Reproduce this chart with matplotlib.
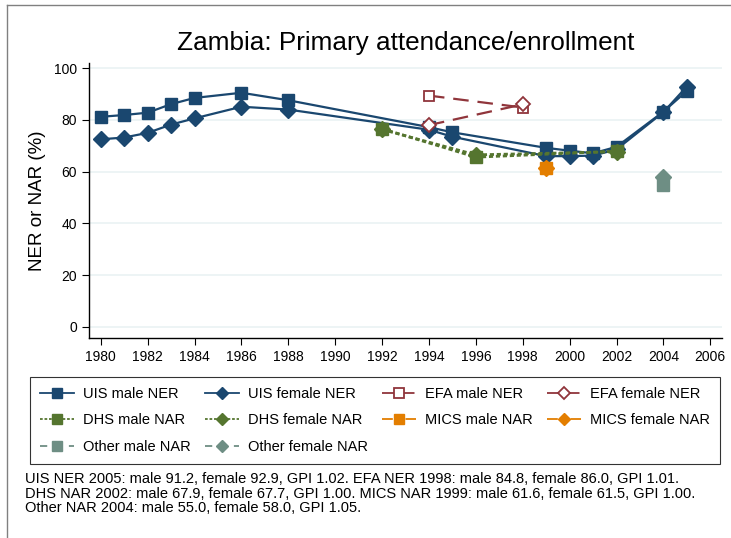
import matplotlib
matplotlib.use('Agg')
import matplotlib.pyplot as plt
from matplotlib.lines import Line2D

plt.rcParams['font.family'] = ['Liberation Sans', 'DejaVu Sans']

# data
uis_years = [1980, 1981, 1982, 1983, 1984, 1986, 1988, 1994, 1995, 1999, 2000, 2001, 2002, 2004, 2005]
uis_male = [81.2, 81.9, 82.8, 86.1, 88.5, 90.5, 87.6, 77.2, 75.2, 69.2, 68.1, 67.1, 69.6, 83.2, 91.2]
uis_female = [72.5, 73.2, 75.0, 78.2, 80.6, 85.1, 84.0, 76.2, 73.5, 66.0, 66.0, 66.2, 68.6, 83.0, 92.9]

efa_years = [1994, 1998]
efa_male = [89.4, 84.8]
efa_female = [78.0, 86.0]

dhs_years = [1992, 1996, 2002]
dhs_male = [76.6, 65.6, 67.9]
dhs_female = [76.3, 66.5, 67.7]

mics_years = [1999]
mics_male = [61.6]
mics_female = [61.5]

other_years = [2004]
other_male = [55.0]
other_female = [58.0]

xticks = list(range(1980, 2007, 2))
yticks = [0, 20, 40, 60, 80, 100]

navy = '#1a476f'
maroon = '#90353b'
green = '#55752f'
orange = '#e37e00'
teal = '#6e8e84'

fig = plt.figure(figsize=(7.31, 5.38), dpi=100)
ax = fig.add_axes([0.1218, 0.3717, 0.8659, 0.5112])

lw = 1.6
ms = 8.5
ax.plot(uis_years, uis_male, '-', color=navy, lw=lw, marker='s', ms=ms, label='UIS male NER')
ax.plot(uis_years, uis_female, '-', color=navy, lw=lw, marker='D', ms=ms - 0.5, label='UIS female NER')
ax.plot(efa_years, efa_male, color=maroon, lw=lw, dashes=(7, 4), marker='s', ms=ms - 1,
        mfc='white', mec=maroon, mew=1.3, label='EFA male NER')
ax.plot(efa_years, efa_female, color=maroon, lw=lw, dashes=(7, 4), marker='D', ms=ms - 1.5,
        mfc='white', mec=maroon, mew=1.3, label='EFA female NER')
ax.plot(dhs_years, dhs_male, color=green, lw=lw + 0.4, dashes=(1.5, 1), marker='s', ms=ms,
        label='DHS male NAR')
ax.plot(dhs_years, dhs_female, color=green, lw=lw + 0.4, dashes=(1.5, 1), marker='D', ms=ms - 0.5,
        label='DHS female NAR')
ax.plot(mics_years, mics_male, color=orange, lw=lw, dashes=(6, 3, 1, 3), marker='s', ms=ms,
        label='MICS male NAR')
ax.plot(mics_years, mics_female, color=orange, lw=lw, dashes=(6, 3, 1, 3), marker='D', ms=ms - 0.5,
        label='MICS female NAR')
ax.plot(other_years, other_male, color=teal, lw=lw, dashes=(4, 4), marker='s', ms=ms,
        label='Other male NAR')
ax.plot(other_years, other_female, color=teal, lw=lw, dashes=(4, 4), marker='D', ms=ms - 0.5,
        label='Other female NAR')

ax.set_xlim(1979.5, 2006.5)
ax.set_ylim(-4.3, 102)
ax.set_xticks(xticks)
ax.set_yticks(yticks)
ax.tick_params(labelsize=10, length=5, width=0.8, color='black')
ax.yaxis.grid(True, color='#eaf2f3', lw=1.2)
ax.set_axisbelow(True)
ax.spines['top'].set_visible(False)
ax.spines['right'].set_visible(False)
ax.spines['left'].set_linewidth(1)
ax.spines['bottom'].set_linewidth(1)
ax.set_ylabel('NER or NAR (%)', fontsize=13.5, labelpad=6)
ax.set_title('Zambia: Primary attendance/enrollment', fontsize=18.8, pad=9)

# legend filled row by row, like the reference (matplotlib fills by column)
handles, labels = ax.get_legend_handles_labels()
order = [0, 4, 8, 1, 5, 9, 2, 6, 3, 7]
leg = fig.legend([handles[i] for i in order], [labels[i] for i in order], ncol=4,
                 fontsize=10.5, bbox_to_anchor=(30 / 731, 1 - 377 / 538), loc='upper left',
                 borderaxespad=0, numpoints=1, handlelength=2.33, handletextpad=0.6,
                 columnspacing=1.0, labelspacing=0.85, frameon=True, fancybox=False,
                 edgecolor='black', borderpad=0.68)
leg.get_frame().set_linewidth(0.8)
for h in leg.legend_handles:
    h.set_markersize(6.5 if h.get_marker() == 's' else 6)
    h.set_linewidth(1.3)

note = ('UIS NER 2005: male 91.2, female 92.9, GPI 1.02. EFA NER 1998: male 84.8, female 86.0, GPI 1.01.\n'
        'DHS NAR 2002: male 67.9, female 67.7, GPI 1.00. MICS NAR 1999: male 61.6, female 61.5, GPI 1.00.\n'
        'Other NAR 2004: male 55.0, female 58.0, GPI 1.05.')
fig.text(25 / 731, 1 - 472 / 538, note, fontsize=10.5, va='top', ha='left', linespacing=1.06)

# outer frame (only top and left visible in the crop)
fig.add_artist(Line2D([7 / 731, 7 / 731], [0, 1 - 5 / 538], transform=fig.transFigure,
                      color='#808080', lw=1))
fig.add_artist(Line2D([7 / 731, 1], [1 - 5 / 538, 1 - 5 / 538], transform=fig.transFigure,
                      color='#808080', lw=1))

fig.savefig('out.png', dpi=100)
